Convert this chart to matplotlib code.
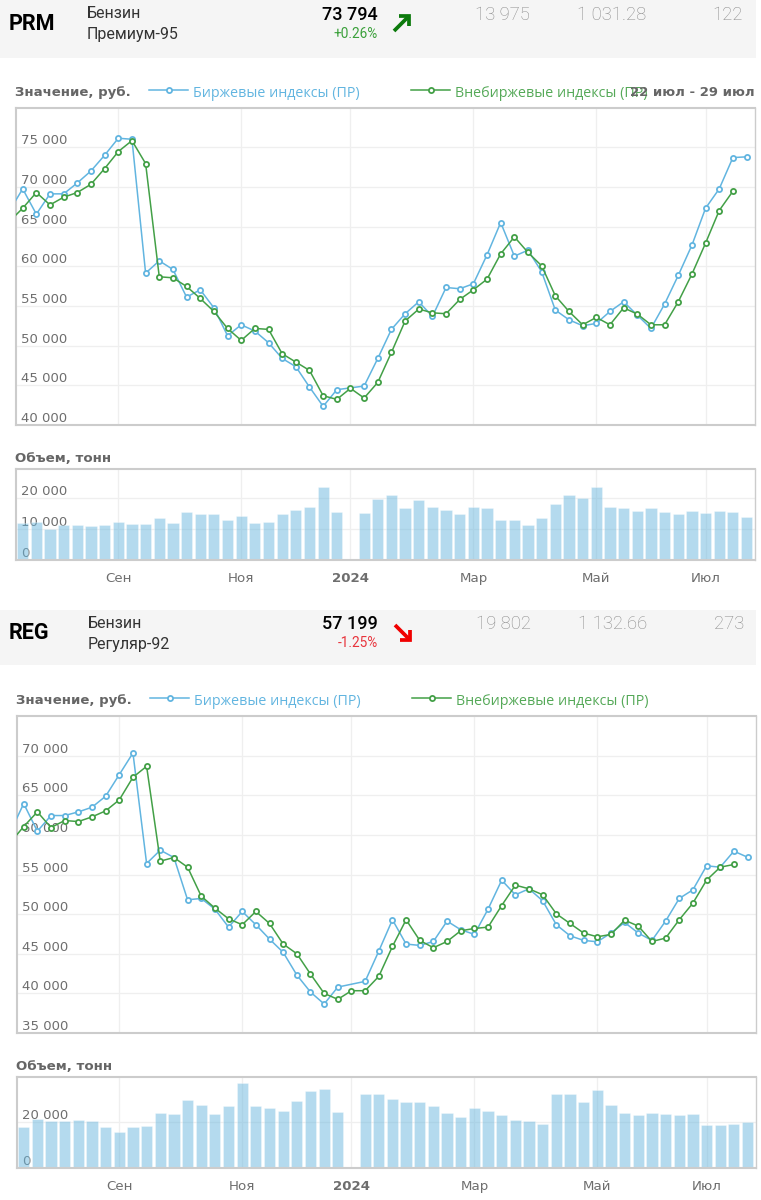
import numpy as np
import matplotlib
matplotlib.use("Agg")
import matplotlib.pyplot as plt
from matplotlib.lines import Line2D
from matplotlib.patches import Rectangle

W, H = 761, 1200
BLUE = '#62b5e0'
GREEN = '#43a047'
BLUE_TEXT = '#62b5e0'
GREEN_TEXT = '#55a958'
BAR = '#6ab7de'
GRID = '#efefef'
SPINE = '#cccccc'
TXT = '#6e6e6e'
HEAD = 'Roboto'
LEG = 'Open Sans'

month_pos = [7, 16, 24, 33, 42, 50]
month_labels = ['Сен', 'Ноя', '2024', 'Мар', 'Май', 'Июл']

prm_exchange = [66900, 69760, 66570, 69130, 69130, 70510, 72020, 74000, 76140, 76010, 59140, 60690, 59600, 56120, 57040,
                54770, 51250, 52630, 51840, 50370, 48390, 47350, 44780, 42350, 44450, None, 44910, 48390, 52050,
                54020, 55530, 53680, 57330, 57170, 57800, 61450, 65520, 61280, 62030, 59310, 54480, 53260, 52510,
                52800, 54310, 55530, 53850, 52170, 55240, 58850, 62660, 67320, 69760, 73700, 73794]
prm_otc = [65600, 67320, 69300, 67740, 68710, 69300, 70340, 72320, 74460, 75840, 72950, 58680, 58550, 57460, 55950,
           54310, 52170, 50660, 52170, 52050, 48980, 47930, 46880, 43690, 43230, 44620, 43400, 45370, 49150,
           53100, 54610, 54140, 54020, 55820, 57040, 58380, 61570, 63710, 61740, 60060, 56280, 54310, 52630,
           53560, 52630, 54770, 53980, 52630, 52630, 55530, 59010, 62920, 67030, 69460, None]
prm_volume = [12100, 12420, 10150, 11340, 11340, 10910, 11340, 12420, 11660, 11660, 13610, 12100, 15550, 14800,
              14800, 12850, 14360, 12100, 12420, 14800, 16310, 17060, 23760, 15550, 0, 15120, 19870, 21060,
              16740, 19440, 17170, 16310, 14800, 17170, 16740, 12850, 12850, 11340, 13610, 18250, 21060, 20200,
              23760, 17170, 16740, 15980, 16740, 15550, 14800, 15980, 15120, 15980, 15550, 13975]

reg_exchange = [60300, 63970, 60480, 62460, 62460, 62920, 63510, 64900, 67630, 70360, 56400, 58090, 57160, 51820, 51990,
                50640, 48370, 50350, 48670, 46860, 45180, 42320, 40170, 38660, 40800, None, 41520, 45340, 49300,
                46230, 46060, 46560, 49130, 48040, 47450, 50640, 54300, 52450, 53210, 51690, 48670, 47280, 46690,
                46520, 47620, 48960, 47620, 46690, 49130, 51990, 53080, 56110, 55940, 57960, 57199]
reg_otc = [59000, 61070, 62920, 60950, 61830, 61700, 62290, 63050, 64440, 67290, 68680, 56700, 57160, 55940, 52280,
           50770, 49420, 48670, 50350, 48830, 46230, 45010, 42440, 40000, 39250, 40340, 40340, 42150, 45930,
           49300, 46690, 45770, 46560, 47910, 48200, 48370, 51100, 53670, 53210, 52450, 50050, 48830, 47620,
           47150, 47450, 49250, 48500, 46560, 46980, 49300, 51400, 54300, 55940, 56280, None]
reg_volume = [17690, 21320, 20300, 20300, 20740, 20300, 17690, 15520, 17690, 18270, 23930, 23490, 29730, 27550,
              23490, 27120, 37120, 27120, 26100, 24940, 29150, 33350, 34370, 24510, 0, 32340, 32340, 30160,
              28710, 28710, 27120, 23930, 22330, 25960, 24940, 22910, 20740, 20300, 19290, 32340, 32340, 28710,
              33930, 27550, 23930, 22910, 23930, 23490, 22910, 23490, 18710, 18710, 19290, 19802]

fig = plt.figure(figsize=(W / 100, H / 100), dpi=100, facecolor='white')


def fx(px):
    return px / W


def fy(py):
    return 1 - py / H


def make_axes(l, t, r, b):
    return fig.add_axes([fx(l), fy(b), (r - l) / W, (b - t) / H])


def style(ax, ylim, xlim, ticks, labels):
    ax.set_xlim(*xlim)
    ax.set_ylim(*ylim)
    ax.set_facecolor('white')
    ax.set_xticks(month_pos)
    ax.set_yticks(ticks)
    ax.set_yticklabels(labels, fontsize=9.5, color=TXT, family='DejaVu Sans', ha='left', va='bottom')
    ax.tick_params(axis='y', length=0, direction='in', pad=-3.4)
    ax.tick_params(axis='x', length=0)
    ax.grid(True, color=GRID, linewidth=0.9)
    ax.set_axisbelow(True)
    for s in ax.spines.values():
        s.set_color(SPINE)
        s.set_linewidth(1.0)
    ax.spines['left'].set_linewidth(1.5)
    ax.spines['bottom'].set_linewidth(1.5)
    ax.spines['top'].set_linewidth(1.5)


def draw_line(ax, series, color, z):
    y = np.array([np.nan if v is None else v for v in series], dtype=float)
    x = np.arange(-1, len(y) - 1)
    ok = np.isfinite(y)
    ax.plot(x[ok], y[ok], color=color, lw=1.1, marker='o', ms=3.7, mfc='white', mec=color, mew=1.3, zorder=z)


def arrow(c, rising):
    if rising:
        pts = [[(394, c + 31), (409, c + 16)], [(399, c + 16), (409, c + 16), (409, c + 26)]]
        col = '#0c7a0c'
    else:
        pts = [[(395, c + 16), (410, c + 31)], [(400, c + 31), (410, c + 31), (410, c + 21)]]
        col = '#f00000'
    for seg in pts:
        fig.add_artist(Line2D([fx(p[0]) for p in seg], [fy(p[1]) for p in seg], transform=fig.transFigure,
                              color=col, lw=2.7, solid_joinstyle='miter', solid_capstyle='butt'))


def panel(top_px, px_off, code, line1, line2, price, chg, chg_color, rising, s1, s2, s3,
          band, ex, otc, vol, y_min, y_max, y_ticks, vol_max, vol_ticks,
          main_box, vol_box, date_range=None):
    fig.add_artist(Rectangle((0, fy(band[1])), fx(756), (band[1] - band[0]) / H,
                             transform=fig.transFigure, facecolor='#f5f5f5', edgecolor='none', zorder=0))
    c = top_px
    fig.text(fx(9), fy(c + 24), code, fontsize=15.5, fontweight='bold', family=HEAD, color='black', va='center', ha='left')
    fig.text(fx(87 + px_off), fy(c + 14), line1, fontsize=11.5, family=HEAD, color='#333333', va='center')
    fig.text(fx(87 + px_off), fy(c + 35), line2, fontsize=11.5, family=HEAD, color='#333333', va='center')
    fig.text(fx(378), fy(c + 15), price, fontsize=13, family=HEAD, color='black', va='center', ha='right', fontweight='medium')
    fig.text(fx(378), fy(c + 34), chg, fontsize=9.8, family=HEAD, color=chg_color, va='center', ha='right')
    arrow(c, rising)
    for right, s in zip((530 + px_off, 646 + px_off, 743 + px_off), (s1, s2, s3)):
        fig.text(fx(right), fy(c + 15), s, fontsize=13.3, family=HEAD, color='#8a8a8a', va='center', ha='right', fontweight='light')

    ly = main_box[1] - 17
    fig.text(fx(15 + px_off), fy(ly + 1.5), 'Значение, руб.', fontsize=9.55, fontweight='bold', family='DejaVu Sans', color='#666666', va='center')
    for x0, col, tcol, lab in ((149, BLUE, BLUE_TEXT, 'Биржевые индексы (ПР)'), (411, GREEN, GREEN_TEXT, 'Внебиржевые индексы (ПР)')):
        x0 += px_off
        fig.add_artist(Line2D([fx(x0), fx(x0 + 39)], [fy(ly - 1), fy(ly - 1)], transform=fig.transFigure,
                              color=col, lw=1.1))
        fig.add_artist(Line2D([fx(x0 + 19.5)], [fy(ly - 1)], transform=fig.transFigure, color=col,
                              marker='o', ms=3.7, mfc='white', mew=1.3))
        fig.text(fx(x0 + 44), fy(ly + 2.5), lab, fontsize=10.3, family=LEG, color=tcol, va='center')
    if date_range:
        fig.text(fx(755), fy(ly + 1.5), date_range, fontsize=9.55, fontweight='bold', family='DejaVu Sans', color='#666666', va='center', ha='right')

    xlim = (-0.49, 53.62)
    ax = make_axes(*main_box)
    style(ax, (y_min, y_max), xlim, y_ticks, [f'{v:,}'.replace(',', ' ') for v in y_ticks])
    ax.set_xticklabels([])
    draw_line(ax, ex, BLUE, 3)
    draw_line(ax, otc, GREEN, 4)

    fig.text(fx(15 + px_off), fy(vol_box[1] - 10.5), 'Объем, тонн', fontsize=9.6, fontweight='bold', family='DejaVu Sans', color='#666666', va='center')
    ax2 = make_axes(*vol_box)
    style(ax2, (0, vol_max), xlim, vol_ticks, [f'{v:,}'.replace(',', ' ') for v in vol_ticks])
    ax2.bar(np.arange(len(vol)), vol, width=0.82, facecolor=BAR, edgecolor='white', linewidth=0.4, alpha=0.5, zorder=2)
    ax2.set_xticklabels(month_labels, fontsize=9.6, color=TXT, family='DejaVu Sans', va='baseline')
    ax2.tick_params(axis='x', pad=15.5)
    ax2.get_xticklabels()[2].set_fontweight('bold')


panel(0, 0, 'PRM', 'Бензин', 'Премиум-95', '73 794', '+0.26%', '#3aa03a', True, '13 975', '1 031.28', '122',
      (0, 58), prm_exchange, prm_otc, prm_volume, 40000, 79950,
      [40000, 45000, 50000, 55000, 60000, 65000, 70000, 75000], 29500, [0, 10000, 20000],
      (16, 108, 755, 425), (16, 469, 755, 560), date_range='22 июл - 29 июл')
panel(609, 1, 'REG', 'Бензин', 'Регуляр-92', '57 199', '-1.25%', '#e8343c', False, '19 802', '1 132.66', '273',
      (610, 665), reg_exchange, reg_otc, reg_volume, 35000, 75030,
      [35000, 40000, 45000, 50000, 55000, 60000, 65000, 70000], 39600, [0, 20000],
      (17, 716, 756, 1033), (17, 1077, 756, 1168))

fig.savefig('out.png', dpi=100)
